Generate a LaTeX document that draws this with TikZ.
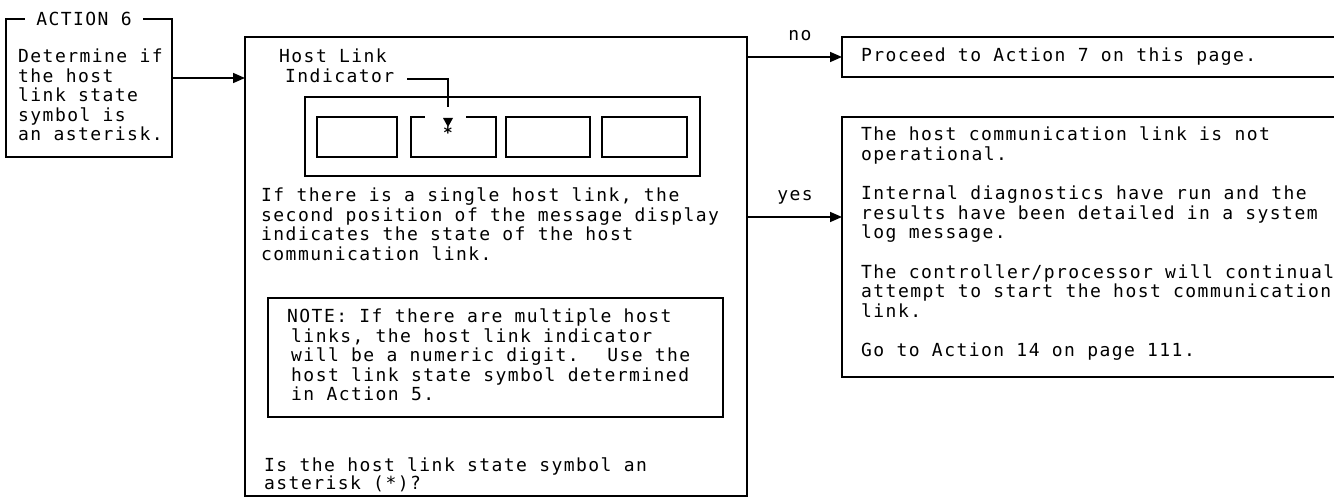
\documentclass[tikz,border=0pt]{standalone}
\usepackage{fontspec}
\newfontfamily\manual{DejaVu Sans Mono}[LetterSpace=8]
\usetikzlibrary{arrows.meta}

\begin{document}
\begin{tikzpicture}[x=1pt,y=-1pt,
    panel/.style={draw,line width=1.6pt,inner sep=0pt,outer sep=0pt},
    txt/.style={font=\manual\fontsize{18}{19.5}\selectfont,align=left,inner sep=0pt,anchor=north west},
    flow/.style={line width=1.6pt,-{Triangle[length=12pt,width=10pt]}}]
  \path[use as bounding box,clip] (0,0) rectangle (1334,497);
  \fill[white] (0,0) rectangle (1334,497);
  % boxes
  \node[panel,minimum width=166,minimum height=138] (act) at (89,88) {};
  \node[panel,minimum width=502,minimum height=459] (main) at (496,266.5) {};
  \node[panel,minimum width=395,minimum height=79] (disp) at (502.5,136.5) {};
  \node[panel,minimum width=455,minimum height=119] (note) at (495.5,357.5) {};
  \node[panel,minimum width=560,minimum height=40] (nobox) at (1122,57) {};
  \node[panel,minimum width=560,minimum height=260] (yesbox) at (1122,247) {};
  \foreach \l/\r [count=\i] in {317/397,411/496,506/590,602/687}
    \node[panel,minimum width=\r-\l,minimum height=40] (cell\i) at ({(\l+\r)/2},137) {};
  \fill[white] (425,115) rectangle (466,119);
  % texts
  \node[txt,fill=white,inner xsep=11pt,anchor=center] (actlbl) at (84,19) {ACTION 6};
  \node[txt] (acttxt) at (18,49) {Determine if\\the host\\link state\\symbol is\\an asterisk.};
  \node[txt] (hostlbl) at (279,49) {Host Link\\\hspace*{6pt}Indicator};
  \node[txt,font=\manual\bfseries\fontsize{16}{16}\selectfont,anchor=north] (ast) at (448,126.5) {*};
  \node[txt] (para) at (261,188) {If there is a single host link, the\\second position of the message display\\indicates the state of the host\\communication link.};
  \node[txt] (notetxt) at (287,309) {NOTE: If there are multiple host\\\hspace*{4pt}links, the host link indicator\\\hspace*{4pt}will be a numeric digit.~ Use the\\\hspace*{4pt}host link state symbol determined\\\hspace*{4pt}in Action 5.};
  \node[txt,font=\manual\fontsize{18}{18}\selectfont] (ask) at (264,458) {Is the host link state symbol an\\asterisk (*)?};
  \node[txt] (proceed) at (861,48) {Proceed to Action 7 on this page.};
  \node[txt] (yestxt) at (861,127) {The host communication link is not\\operational.\\[20pt]Internal diagnostics have run and the\\results have been detailed in a system\\log message.\\[20pt]The controller/processor will continual\\attempt to start the host communication\\link.\\[20pt]Go to Action 14 on page 111.};
  \node[txt,anchor=center] (nolbl) at (800,36) {no};
  \node[txt,anchor=center] (yeslbl) at (795,197) {yes};
  % connectors
  \coordinate (lead) at (407,79);
  \coordinate (tip) at (448,107);
  \draw[line width=1.6pt] (lead) -| (tip);
  \fill (443,118) -- (453,118) -- (448,127) -- cycle;
  \draw[flow] (act.east |- 0,78) -- (main.west |- 0,78);
  \draw[flow] (main.east |- nobox.west) -- (nobox.west);
  \draw[flow] (main.east |- 0,217) -- (yesbox.west |- 0,217);
\end{tikzpicture}
\end{document}
